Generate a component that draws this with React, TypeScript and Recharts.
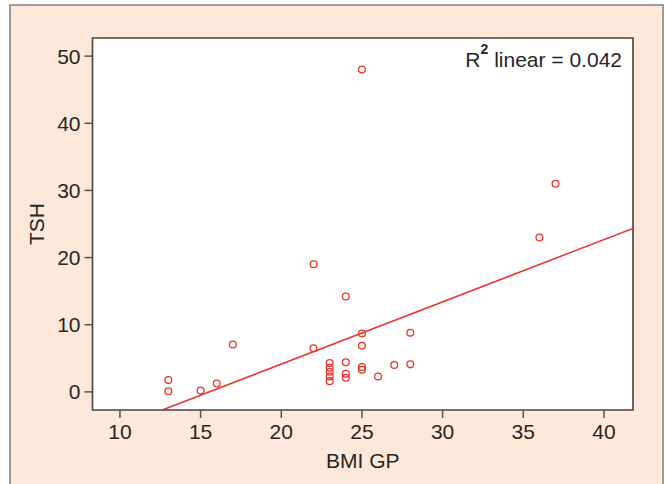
import { ScatterChart, Scatter, XAxis, YAxis, CartesianGrid, ReferenceArea, ReferenceLine, Customized } from "recharts";

const bmi = [25, 37, 36, 22, 24, 25, 28, 17, 25, 22, 23, 24, 23, 25, 25, 27, 28, 23, 24, 23, 24, 26, 23, 13, 13, 15, 16];
const tsh = [48, 31, 23, 19, 14.2, 8.7, 8.8, 7.05, 6.86, 6.5, 4.3, 4.4, 3.6, 3.7, 3.3, 4.0, 4.1, 3.0, 2.7, 2.3, 2.1, 2.3, 1.6, 1.75, 0.1, 0.2, 1.25];
const xTicks = [10, 15, 20, 25, 30, 35, 40];
const yTicks = [0, 10, 20, 30, 40, 50];
const xDomain = [8.3, 41.8];
const yDomain = [-2.7, 52.7];
const fitLine = [
  { x: 12.63, y: -2.7 },
  { x: 41.8, y: 24.35 },
];
const rSquared = "0.042";

const points = bmi.map((x, i) => ({ x, y: tsh[i] }));

const RED = "#E9342B";
const FONT = "'Liberation Sans', Arial, sans-serif";

const Ring = (props: any) => {
  const { cx, cy } = props;
  if (cx == null || cy == null) return <g />;
  return <circle cx={cx} cy={cy} r={3.4} fill="none" stroke={RED} strokeWidth={1.3} />;
};

export default function App() {
  return (
    <div style={{ position: "absolute", left: 0, top: 0, width: 665, height: 484, background: "#fff", overflow: "hidden" }}>
      <div
        style={{
          position: "absolute",
          left: 9,
          top: 4,
          width: 651,
          height: 500,
          background: "#FDE8DA",
          border: "2px solid #9c9c9c",
          borderBottom: "none",
        }}
      />
      <div style={{ position: "absolute", left: 0, top: 0 }}>
        <ScatterChart width={665} height={484} margin={{ top: 38, right: 32, left: 0, bottom: 14 }}>
          <CartesianGrid fill="#ffffff" horizontal={false} vertical={false} />
          <XAxis
            type="number"
            dataKey="x"
            domain={xDomain}
            ticks={xTicks}
            allowDataOverflow
            height={60}
            axisLine={false}
            tickSize={8}
            tickMargin={6}
            tickLine={{ stroke: "#555", strokeWidth: 1.5 }}
            tick={{ fill: "#262626", fontSize: 21, fontFamily: FONT }}
            label={({ viewBox }: any) => (
              <text x={viewBox.x + viewBox.width / 2} y={468} textAnchor="middle" fill="#262626" fontSize={21} fontFamily={FONT}>
                BMI GP
              </text>
            )}
          />
          <YAxis
            type="number"
            dataKey="y"
            domain={yDomain}
            ticks={yTicks}
            allowDataOverflow
            width={92.5}
            axisLine={false}
            tickSize={8}
            tickMargin={4}
            tickLine={{ stroke: "#555", strokeWidth: 1.5 }}
            tick={{ fill: "#262626", fontSize: 21, fontFamily: FONT }}
            label={({ viewBox }: any) => (
              <text
                x={44}
                y={viewBox.y + viewBox.height / 2}
                transform={`rotate(-90 44 ${viewBox.y + viewBox.height / 2})`}
                textAnchor="middle"
                fill="#262626"
                fontSize={21}
                fontFamily={FONT}
              >
                TSH
              </text>
            )}
          />
          <ReferenceLine segment={fitLine} stroke={RED} strokeWidth={1.5} ifOverflow="hidden" />
          <Scatter data={points} shape={Ring} isAnimationActive={false} />
          <ReferenceArea
            x1={xDomain[0]}
            x2={xDomain[1]}
            y1={yDomain[0]}
            y2={yDomain[1]}
            fill="none"
            fillOpacity={0}
            stroke="#444"
            strokeWidth={1.6}
          />
          <Customized
            component={() => (
              <text x={622} y={66.5} textAnchor="end" fill="#262626" fontSize={21} fontFamily={FONT}>
                R
                <tspan dy={-13} fontSize={14} fontWeight="bold">2</tspan>
                <tspan dy={13}> linear = {rSquared}</tspan>
              </text>
            )}
          />
        </ScatterChart>
      </div>
    </div>
  );
}
